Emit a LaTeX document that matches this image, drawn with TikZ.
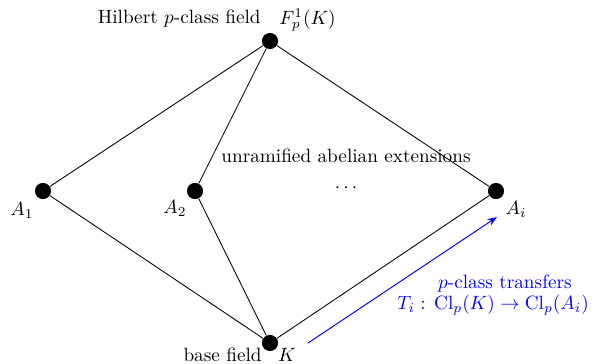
\documentclass[tikz,border=0pt]{standalone}
\usetikzlibrary{arrows.meta}
\begin{document}
\begin{tikzpicture}[x=0.52pt,y=-0.52pt,
  dot/.style={circle,fill=black,inner sep=0pt,minimum size=8.4pt},
  edge/.style={draw=black,line width=0.45pt},
  lbl/.style={inner sep=0pt}]
\useasboundingbox (0,0) rectangle (593,363);
\node[dot] (F) at (270,41) {};
\node[dot] (A1) at (43,191) {};
\node[dot] (A2) at (195,191) {};
\node[dot] (Ai) at (496,191) {};
\node[dot] (K) at (270,343) {};
\draw[edge] (F) -- (A1);
\draw[edge] (F) -- (A2);
\draw[edge] (F) -- (Ai);
\draw[edge] (K) -- (A1);
\draw[edge] (K) -- (A2);
\draw[edge] (K) -- (Ai);
\node[lbl,anchor=east] (hl) at (261,19) {Hilbert $p$-class field};
\node[lbl,anchor=west] (fl) at (279,20) {$F_p^1(K)$};
\node[lbl] (a1l) at (22,210) {$A_1$};
\node[lbl] (a2l) at (175,208) {$A_2$};
\node[lbl] (ail) at (516,209) {$A_i$};
\node[lbl,anchor=east] (bl) at (262,355) {base field};
\node[lbl] (kl) at (287,355) {$K$};
\node[lbl] (ua) at (346,156) {unramified abelian extensions};
\node[lbl] (dd) at (346,188) {$\cdots$};
\coordinate (bs) at (308,343);
\coordinate (be) at (497,217);
\draw[blue,line width=0.5pt,-{Stealth[length=5pt]}] (bs) -- (be);
\node[lbl,blue] (t1) at (505,284) {$p$-class transfers};
\node[lbl,blue] (t2) at (493,305) {$T_i:\,\mathrm{Cl}_p(K)\to\mathrm{Cl}_p(A_i)$};
\end{tikzpicture}
\end{document}
